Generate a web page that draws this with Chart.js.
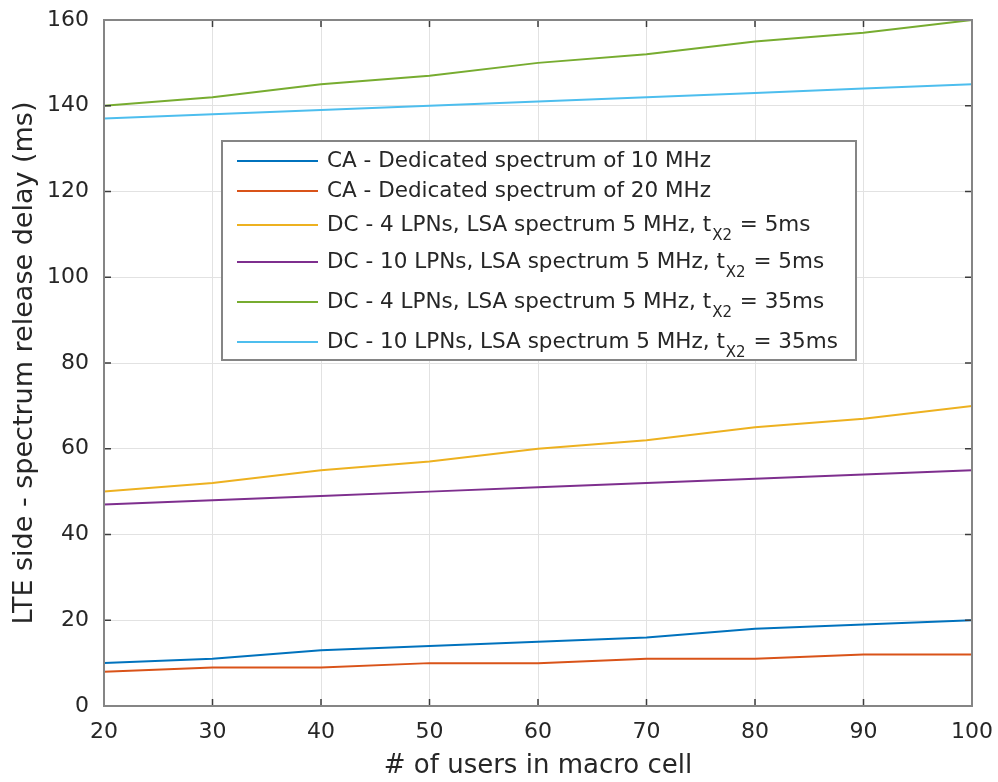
<!DOCTYPE html>
<html>
<head>
<meta charset="utf-8">
<script src="https://cdn.jsdelivr.net/npm/chart.js@4.4.0/dist/chart.umd.min.js"></script>
<style>
html,body{margin:0;padding:0;background:#ffffff;}
#wrap{width:998px;height:782px;position:relative;}
</style>
</head>
<body>
<div id="wrap"><canvas id="c" width="998" height="782"></canvas></div>
<script>
// ---- data ----
const usersInCell   = [20, 30, 40, 50, 60, 70, 80, 90, 100];
const caDedicated10 = [10, 11, 13, 14, 15, 16, 18, 19, 20];
const caDedicated20 = [8, 9, 9, 10, 10, 11, 11, 12, 12];
const dc4Lpn5ms     = [50, 52, 55, 57, 60, 62, 65, 67, 70];
const dc10Lpn5ms    = [47, 48, 49, 50, 51, 52, 53, 54, 55];
const dc4Lpn35ms    = [140, 142, 145, 147, 150, 152, 155, 157, 160];
const dc10Lpn35ms   = [137, 138, 139, 140, 141, 142, 143, 144, 145];

const seriesLabels = [
  'CA - Dedicated spectrum of 10 MHz',
  'CA - Dedicated spectrum of 20 MHz',
  'DC - 4 LPNs, LSA spectrum 5 MHz, t_{X2} = 5ms',
  'DC - 10 LPNs, LSA spectrum 5 MHz, t_{X2} = 5ms',
  'DC - 4 LPNs, LSA spectrum 5 MHz, t_{X2} = 35ms',
  'DC - 10 LPNs, LSA spectrum 5 MHz, t_{X2} = 35ms'
];
const seriesValues = [caDedicated10, caDedicated20, dc4Lpn5ms, dc10Lpn5ms, dc4Lpn35ms, dc10Lpn35ms];
const seriesColors = ['#0072BD', '#D95319', '#EDB120', '#7E2F8E', '#77AC30', '#4DBEEE'];

const xTickValues = [20, 30, 40, 50, 60, 70, 80, 90, 100];
const yTickValues = [0, 20, 40, 60, 80, 100, 120, 140, 160];
const xTitle = '# of users in macro cell';
const yTitle = 'LTE side - spectrum release delay (ms)';

// ---- styling ----
const FONT = "'DejaVu Sans', 'Liberation Sans', sans-serif";
const TEXT = '#262626';

const bgPlugin = {
  id: 'bg',
  beforeDraw(chart) {
    const ctx = chart.ctx;
    ctx.save();
    ctx.fillStyle = '#ffffff';
    ctx.fillRect(0, 0, chart.width, chart.height);
    ctx.restore();
  }
};

const boxPlugin = {
  id: 'box',
  afterDatasetsDraw(chart) {
    const ctx = chart.ctx, a = chart.chartArea, xs = chart.scales.x, ys = chart.scales.y;
    ctx.save();
    ctx.strokeStyle = '#3c3c3c';
    ctx.lineWidth = 1.5;
    const L = 7;
    ctx.beginPath();
    xs.ticks.forEach(t => {
      const p = xs.getPixelForValue(t.value);
      ctx.moveTo(p, a.bottom); ctx.lineTo(p, a.bottom - L);
      ctx.moveTo(p, a.top); ctx.lineTo(p, a.top + L);
    });
    ys.ticks.forEach(t => {
      const p = ys.getPixelForValue(t.value);
      ctx.moveTo(a.left, p); ctx.lineTo(a.left + L, p);
      ctx.moveTo(a.right, p); ctx.lineTo(a.right - L, p);
    });
    ctx.stroke();
    ctx.strokeStyle = '#858585';
    ctx.lineWidth = 2;
    ctx.strokeRect(a.left, a.top, a.right - a.left, a.bottom - a.top);
    ctx.restore();
  }
};

const legendPlugin = {
  id: 'matlabLegend',
  afterDraw(chart) {
    const ctx = chart.ctx;
    const bx = 222, by = 141, bw = 634, bh = 219;
    const rowY = [161, 191, 225, 262, 302, 342];
    ctx.save();
    ctx.fillStyle = '#ffffff';
    ctx.fillRect(bx, by, bw, bh);
    ctx.strokeStyle = '#858585';
    ctx.lineWidth = 2;
    ctx.strokeRect(bx, by, bw, bh);
    chart.data.datasets.forEach((ds, i) => {
      const y = rowY[i];
      ctx.strokeStyle = ds.borderColor;
      ctx.lineWidth = 2;
      ctx.beginPath();
      ctx.moveTo(237, y); ctx.lineTo(318, y);
      ctx.stroke();
      const m = ds.label.match(/^(.*?)_\{([^}]*)\}(.*)$/);
      const mainFont = '21.5px ' + FONT, subFont = '15px ' + FONT;
      ctx.fillStyle = TEXT;
      ctx.textBaseline = 'middle';
      ctx.textAlign = 'left';
      let x = 327;
      if (m) {
        ctx.font = mainFont; ctx.fillText(m[1], x, y); x += ctx.measureText(m[1]).width + 1;
        ctx.font = subFont; ctx.fillText(m[2], x, y + 11); x += ctx.measureText(m[2]).width + 1;
        ctx.font = mainFont; ctx.fillText(m[3], x, y);
      } else {
        ctx.font = mainFont; ctx.fillText(ds.label, x, y);
      }
    });
    ctx.restore();
  }
};

const datasets = seriesValues.map((vals, i) => ({
  label: seriesLabels[i],
  data: usersInCell.map((u, k) => ({ x: u, y: vals[k] })),
  borderColor: seriesColors[i],
  backgroundColor: seriesColors[i],
  borderWidth: 2,
  pointRadius: 0,
  tension: 0,
  fill: false
}));

function zeroPad(s) { s.paddingLeft = 0; s.paddingRight = 0; s.paddingTop = 0; s.paddingBottom = 0; }

new Chart(document.getElementById('c'), {
  type: 'line',
  data: { datasets },
  plugins: [bgPlugin, boxPlugin, legendPlugin],
  options: {
    responsive: false,
    devicePixelRatio: 1,
    animation: false,
    layout: { padding: { left: 0, top: 20, right: 26, bottom: 0 } },
    plugins: { legend: { display: false }, tooltip: { enabled: false } },
    scales: {
      x: {
        type: 'linear', min: 20, max: 100,
        afterBuildTicks: s => { s.ticks = xTickValues.map(v => ({ value: v })); },
        afterFit: s => { s.height = 76; zeroPad(s); },
        grid: { color: '#e2e2e2', lineWidth: 1, drawTicks: false },
        border: { display: false },
        ticks: { color: TEXT, font: { family: FONT, size: 22 }, padding: 13, maxRotation: 0 },
        title: { display: true, text: xTitle, color: TEXT, font: { family: FONT, size: 26 }, padding: { top: 0, bottom: 0 } }
      },
      y: {
        type: 'linear', min: 0, max: 160,
        afterBuildTicks: s => { s.ticks = yTickValues.map(v => ({ value: v })); },
        afterFit: s => { s.width = 104; zeroPad(s); },
        grid: { color: '#e2e2e2', lineWidth: 1, drawTicks: false },
        border: { display: false },
        ticks: { color: TEXT, font: { family: FONT, size: 22 }, padding: 15 },
        title: { display: true, text: yTitle, color: TEXT, font: { family: FONT, size: 27 }, padding: { top: 9, bottom: 0 } }
      }
    }
  }
});
</script>
</body>
</html>
